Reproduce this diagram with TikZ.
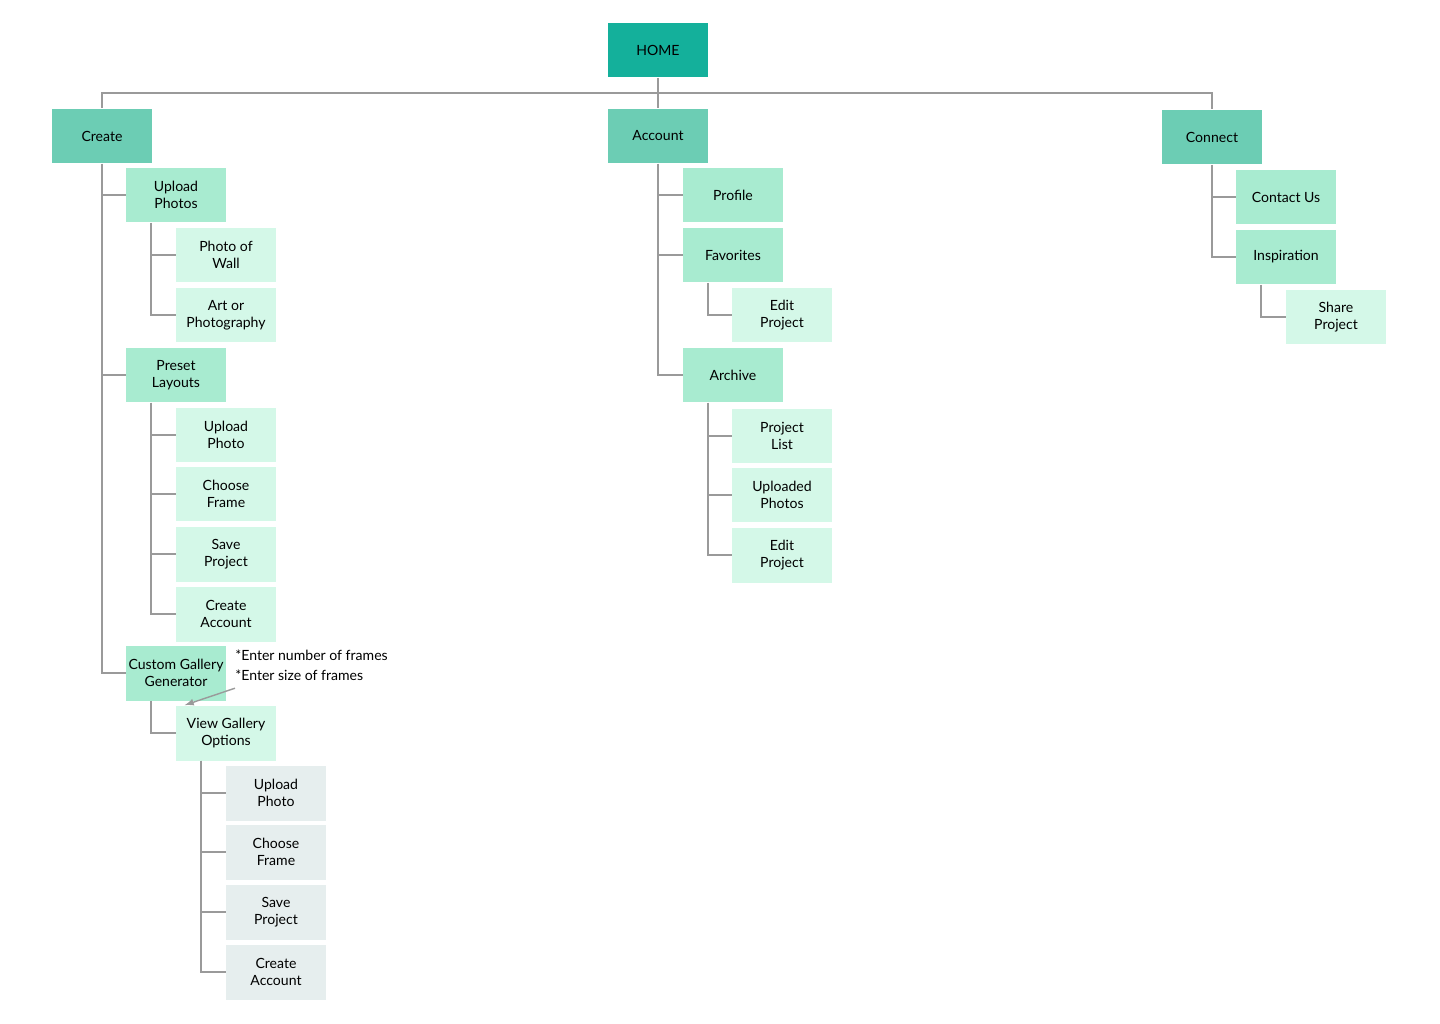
\documentclass[tikz,border=0pt]{standalone}
\usepackage{fontspec}
\setmainfont{Lato}
\definecolor{rootc}{HTML}{14B09B}
\definecolor{lvla}{HTML}{6CCDB4}
\definecolor{lvlb}{HTML}{A8EBD0}
\definecolor{lvlc}{HTML}{D4F8E8}
\definecolor{lvld}{HTML}{E6EEEE}
\definecolor{wire}{HTML}{9A9A9A}
\tikzset{
  box/.style={minimum width=2cm,minimum height=1.1cm,align=center,font=\fontsize{8}{9.5}\selectfont,inner sep=1pt},
  rootbox/.style={box,fill=rootc},
  topbox/.style={box,fill=lvla},
  subbox/.style={box,fill=lvlb},
  leafbox/.style={box,fill=lvlc},
  greybox/.style={box,fill=lvld},
  link/.style={wire,line width=1.1pt}
}
\begin{document}
\begin{tikzpicture}[x=0.02cm,y=-0.02cm]
	\useasboundingbox (0,0) rectangle (1440,1024);

	% top levels
	\node[rootbox] (home) at (658,50) {HOME};
	\node[topbox] (create) at (102,136) {Create};
	\node[topbox] (account) at (658,136) {Account};
	\node[topbox] (connect) at (1212,137) {Connect};
	\coordinate (bus) at (658,93);

	% create branch
	\node[subbox] (upl) at (176,195) {Upload\\Photos};
	\node[leafbox] (wall) at (226,255) {Photo of\\Wall};
	\node[leafbox] (art) at (226,315) {Art or\\Photography};
	\node[subbox] (preset) at (176,375) {Preset\\Layouts};
	\node[leafbox] (pupl) at (226,435) {Upload\\Photo};
	\node[leafbox] (pframe) at (226,494) {Choose\\Frame};
	\node[leafbox] (psave) at (226,554) {Save\\Project};
	\node[leafbox] (pacc) at (226,614) {Create\\Account};
	\node[subbox] (custom) at (176,673) {Custom Gallery\\Generator};
	\node[leafbox] (view) at (226,733) {View Gallery\\Options};
	\node[greybox] (gupl) at (276,793) {Upload\\Photo};
	\node[greybox] (gframe) at (276,852) {Choose\\Frame};
	\node[greybox] (gsave) at (276,912) {Save\\Project};
	\node[greybox] (gacc) at (276,972) {Create\\Account};
	\node[anchor=west,font=\fontsize{8}{9.5}\selectfont,inner sep=0pt] (note1) at (235,655) {*Enter number of frames};
	\node[anchor=west,font=\fontsize{8}{9.5}\selectfont,inner sep=0pt] (note2) at (235,675) {*Enter size of frames};

	% account branch
	\node[subbox] (profile) at (733,195) {Profile};
	\node[subbox] (fav) at (733,255) {Favorites};
	\node[leafbox] (fedit) at (782,315) {Edit\\Project};
	\node[subbox] (archive) at (733,375) {Archive};
	\node[leafbox] (alist) at (782,436) {Project\\List};
	\node[leafbox] (aphotos) at (782,495) {Uploaded\\Photos};
	\node[leafbox] (aedit) at (782,555) {Edit\\Project};

	% connect branch
	\node[subbox] (contact) at (1286,197) {Contact Us};
	\node[subbox] (insp) at (1286,257) {Inspiration};
	\node[leafbox] (share) at (1336,317) {Share\\Project};

	% wires
	\draw[link] (home.south) -- (bus);
	\draw[link] (bus) -- (account.north);
	\draw[link] (create.north) |- (bus) -| (connect.north);
	\foreach \c in {upl,preset,custom}
		\draw[link] (create.south) |- (\c.west);
	\foreach \c in {wall,art}
		\draw[link] ([xshift=-0.5cm]upl.south) |- (\c.west);
	\foreach \c in {pupl,pframe,psave,pacc}
		\draw[link] ([xshift=-0.5cm]preset.south) |- (\c.west);
	\draw[link] ([xshift=-0.5cm]custom.south) |- (view.west);
	\foreach \c in {gupl,gframe,gsave,gacc}
		\draw[link] ([xshift=-0.5cm]view.south) |- (\c.west);
	\foreach \c in {profile,fav,archive}
		\draw[link] (account.south) |- (\c.west);
	\draw[link] ([xshift=-0.5cm]fav.south) |- (fedit.west);
	\foreach \c in {alist,aphotos,aedit}
		\draw[link] ([xshift=-0.5cm]archive.south) |- (\c.west);
	\foreach \c in {contact,insp}
		\draw[link] (connect.south) |- (\c.west);
	\draw[link] ([xshift=-0.5cm]insp.south) |- (share.west);
	\draw[wire,line width=0.8pt,-latex] ([yshift=-0.15cm]note2.south west) -- ([xshift=0.18cm]view.north west);
\end{tikzpicture}
\end{document}
